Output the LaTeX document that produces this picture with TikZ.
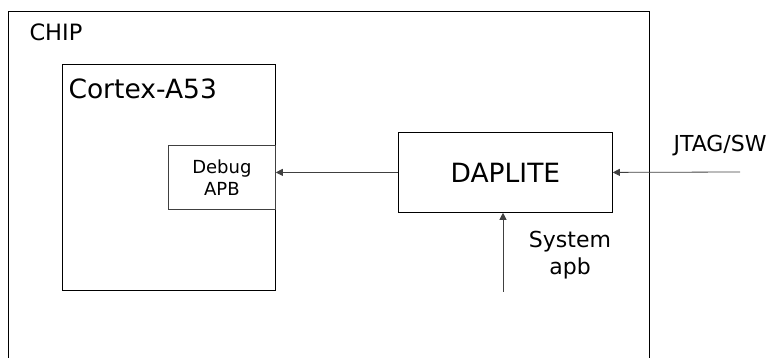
\documentclass[tikz,border=0pt]{standalone}
\usepackage{fontspec}
\setmainfont{DejaVu Sans}
\usetikzlibrary{arrows.meta,positioning}
\tikzset{
  blk/.style={draw, line width=.8pt, inner sep=0pt, anchor=north west},
  bus/.style={draw=black!75, line width=.8pt, -{Triangle[length=7pt,width=7pt]}},
}
\begin{document}
\begin{tikzpicture}[x=1pt,y=-1pt]
\useasboundingbox (0,0) rectangle (777,358);
% chip frame, runs off the bottom
\draw [line width=.8pt] (8,380) -- (8,11) -- (649,11) -- (649,380);
\node [anchor=base west, font=\fontsize{22.5}{22.5}\selectfont] (chip) at (26,41) {CHIP};
% core
\node [blk, minimum width=213pt, minimum height=226pt] (cortex) at (62,64) {};
\node [anchor=base west, font=\fontsize{26.5}{26.5}\selectfont] (cortexlbl) at (65,99) {Cortex-A53};
\node [blk, draw=black!75, minimum width=107pt, minimum height=64pt] (debug) at (168,145) {};
\node [align=center, font=\fontsize{18}{22}\selectfont] (debuglbl) at (debug.center) {Debug\\APB};
% debug access port
\node [blk, minimum width=214pt, minimum height=80pt] (dap) at (398,132) {};
\node [font=\fontsize{26.5}{26.5}\selectfont] (daplbl) at (dap.center) {DAPLITE};
% inputs
\coordinate (jtag) at (740,172);
\coordinate (sysin) at (503,292);
\node [anchor=base west, font=\fontsize{22}{22}\selectfont] (jtaglbl) at (670,152) {JTAG/SW};
\node [align=center, font=\fontsize{22}{27}\selectfont] (syslbl) at (570,255) {System\\apb};
\draw [bus] (jtag) -- (dap.east);
\draw [bus] (dap.west) -- (dap.west -| cortex.east);
\draw [bus] (sysin) -- (sysin |- dap.south);
\end{tikzpicture}
\end{document}
